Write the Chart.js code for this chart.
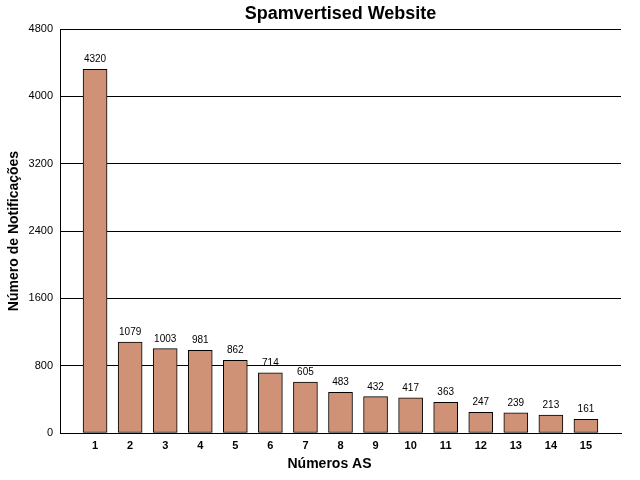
<!DOCTYPE html>
<html>
<head>
<meta charset="utf-8">
<script src="https://cdn.jsdelivr.net/npm/chart.js@4/dist/chart.umd.min.js"></script>
<style>
  body { margin: 0; background: #fff; }
</style>
</head>
<body>
<canvas id="asChart" width="640" height="480"></canvas>
<script>
// dados
const numerosAS = [1, 2, 3, 4, 5, 6, 7, 8, 9, 10, 11, 12, 13, 14, 15];
const notificacoes = [4320, 1079, 1003, 981, 862, 714, 605, 483, 432, 417, 363, 247, 239, 213, 161];
const yTicks = [0, 800, 1600, 2400, 3200, 4000, 4800];

const chartTitle = 'Spamvertised Website';
const xTitle = 'Números AS';
const fonte = '"Liberation Sans", Arial, sans-serif';

// escreve o valor em cima de cada barra
const valoresPlugin = {
  id: 'valores',
  afterDatasetsDraw(chart) {
    const ctx = chart.ctx;
    const meta = chart.getDatasetMeta(0);
    ctx.save();
    ctx.font = '10px ' + fonte;
    ctx.fillStyle = '#000';
    ctx.textAlign = 'center';
    ctx.textBaseline = 'alphabetic';
    meta.data.forEach((bar, i) => {
      ctx.fillText(String(notificacoes[i]), bar.x, bar.y - 7);
    });
    ctx.restore();
  }
};

// título e título do eixo x (um pouco à esquerda, como no original)
const titulosPlugin = {
  id: 'titulos',
  afterDraw(chart) {
    const ctx = chart.ctx;
    const area = chart.chartArea;
    ctx.save();
    ctx.fillStyle = '#000';
    ctx.textAlign = 'center';
    ctx.textBaseline = 'middle';
    ctx.font = 'bold 18px ' + fonte;
    ctx.fillText(chartTitle, (area.left + area.right) / 2, 14);
    ctx.font = 'bold 14px ' + fonte;
    ctx.fillText(xTitle, (area.left + area.right) / 2 - 11, 464);
    ctx.restore();
  }
};

const ctx = document.getElementById('asChart').getContext('2d');
new Chart(ctx, {
  type: 'bar',
  data: {
    datasets: [{
      data: numerosAS.map((n, i) => ({ x: n, y: notificacoes[i] })),
      backgroundColor: '#D09276',
      borderColor: '#000',
      borderWidth: 1,
      borderSkipped: false,
      barThickness: 24
    }]
  },
  options: {
    responsive: false,
    animation: false,
    layout: { padding: { top: 29, right: 19, left: 0, bottom: 0 } },
    plugins: {
      legend: { display: false },
      tooltip: { enabled: false }
    },
    scales: {
      x: {
        type: 'linear',
        offset: false,
        min: 0,
        max: 16,
        afterFit: (scale) => { scale.height = 47; },
        afterBuildTicks: (scale) => {
          scale.ticks = numerosAS.map((n) => ({ value: n }));
        },
        grid: { display: false, drawTicks: false, tickLength: 0 },
        border: { display: true, color: '#000', width: 1 },
        ticks: {
          autoSkip: false,
          maxRotation: 0,
          padding: 6,
          color: '#000',
          font: { family: fonte, size: 11, weight: 'bold' },
          callback: (v) => String(v)
        }
      },
      y: {
        min: 0,
        max: 4800,
        afterFit: (scale) => { scale.width = 60; },
        afterBuildTicks: (scale) => {
          scale.ticks = yTicks.map((v) => ({ value: v }));
        },
        grid: { color: '#000', lineWidth: 1, drawTicks: false, tickLength: 0 },
        border: { display: true, color: '#000', width: 1 },
        ticks: {
          padding: 7,
          color: '#000',
          font: { family: fonte, size: 11 },
          callback: (v) => String(v)
        },
        title: {
          display: true,
          text: 'Número de Notificações',
          color: '#000',
          font: { family: fonte, size: 14, weight: 'bold' },
          padding: { top: 6, bottom: 0 }
        }
      }
    }
  },
  plugins: [valoresPlugin, titulosPlugin]
});
</script>
</body>
</html>
